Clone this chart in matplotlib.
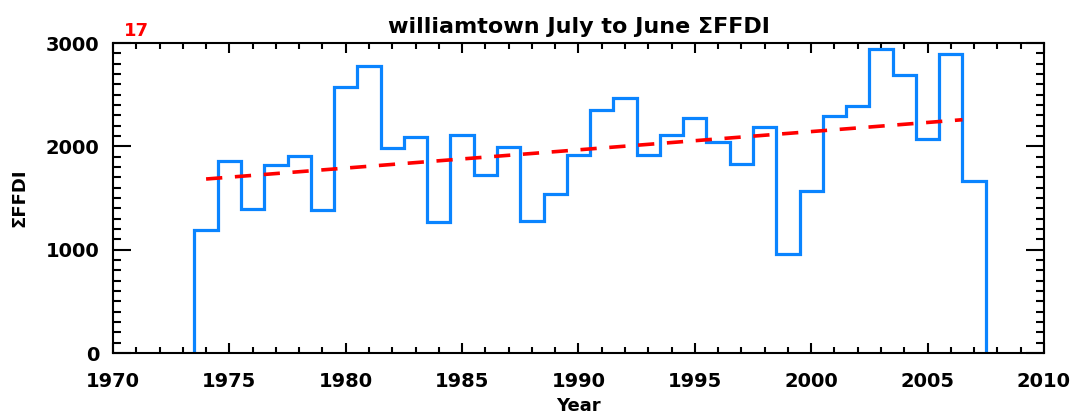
import matplotlib
matplotlib.use("Agg")
import matplotlib.pyplot as plt
from matplotlib.ticker import MultipleLocator
import numpy as np

# July-June summed FFDI for Williamtown, one value per season (centred on year)
years = np.arange(1974, 2008)
ffdi_sum = [1193, 1854, 1396, 1819, 1906, 1380, 2571, 2774, 1984, 2090,
            1264, 2106, 1719, 1990, 1280, 1538, 1919, 2355, 2471, 1919,
            2106, 2274, 2039, 1832, 2187, 961, 1564, 2290, 2387, 2942,
            2693, 2071, 2897, 1668]

# linear trend (units per year) and its span
trend_slope = 17.66
trend_y0 = 1684
trend_x = [1974.0, 2006.5]
slope_label = "17"

title = "williamtown July to June \u03a3FFDI"
ylabel = "\u03a3FFDI"
xlabel = "Year"


def main():
    fig = plt.figure(figsize=(10.75, 4.2), dpi=100)
    ax = fig.add_axes([0.1051, 0.1595, 0.866, 0.738])

    # histogram-style steps, dropping to zero at both ends
    edges = np.concatenate([[years[0] - 0.5], years + 0.5])
    xs = np.repeat(edges, 2)
    ys = np.concatenate([[0], np.repeat(ffdi_sum, 2), [0]])
    ax.plot(xs, ys, color="#0a84ff", lw=2.3, solid_joinstyle="miter")

    tx = np.array(trend_x)
    ty = trend_y0 + trend_slope * (tx - trend_x[0])
    ax.plot(tx, ty, color="red", lw=2.6, linestyle=(0, (4.5, 3.5)))

    ax.set_xlim(1970, 2010)
    ax.set_ylim(0, 3000)
    ax.xaxis.set_major_locator(MultipleLocator(5))
    ax.xaxis.set_minor_locator(MultipleLocator(1))
    ax.yaxis.set_major_locator(MultipleLocator(1000))
    ax.yaxis.set_minor_locator(MultipleLocator(100))

    ax.tick_params(axis="x", which="both", direction="in", top=True, bottom=True,
                   width=1.5, labelsize=14, pad=14)
    ax.tick_params(axis="x", which="major", length=7)
    ax.tick_params(axis="x", which="minor", length=4.5)
    ax.tick_params(axis="y", which="both", direction="in", left=True, right=True,
                   width=1.5, labelsize=14, pad=10)
    ax.tick_params(axis="y", which="major", length=13)
    ax.tick_params(axis="y", which="minor", length=6)
    for lab in ax.get_xticklabels() + ax.get_yticklabels():
        lab.set_fontweight("bold")
    for sp in ax.spines.values():
        sp.set_linewidth(1.5)

    ax.set_title(title, fontsize=16, fontweight="bold", pad=7)
    ax.set_xlabel(xlabel, fontsize=13, fontweight="bold", labelpad=4)
    ax.set_ylabel(ylabel, fontsize=13, fontweight="bold", labelpad=12)

    fig.text(0.115, 0.915, slope_label, color="red", fontsize=13, fontweight="bold")

    fig.savefig("out.png", dpi=100)


if __name__ == "__main__":
    main()
